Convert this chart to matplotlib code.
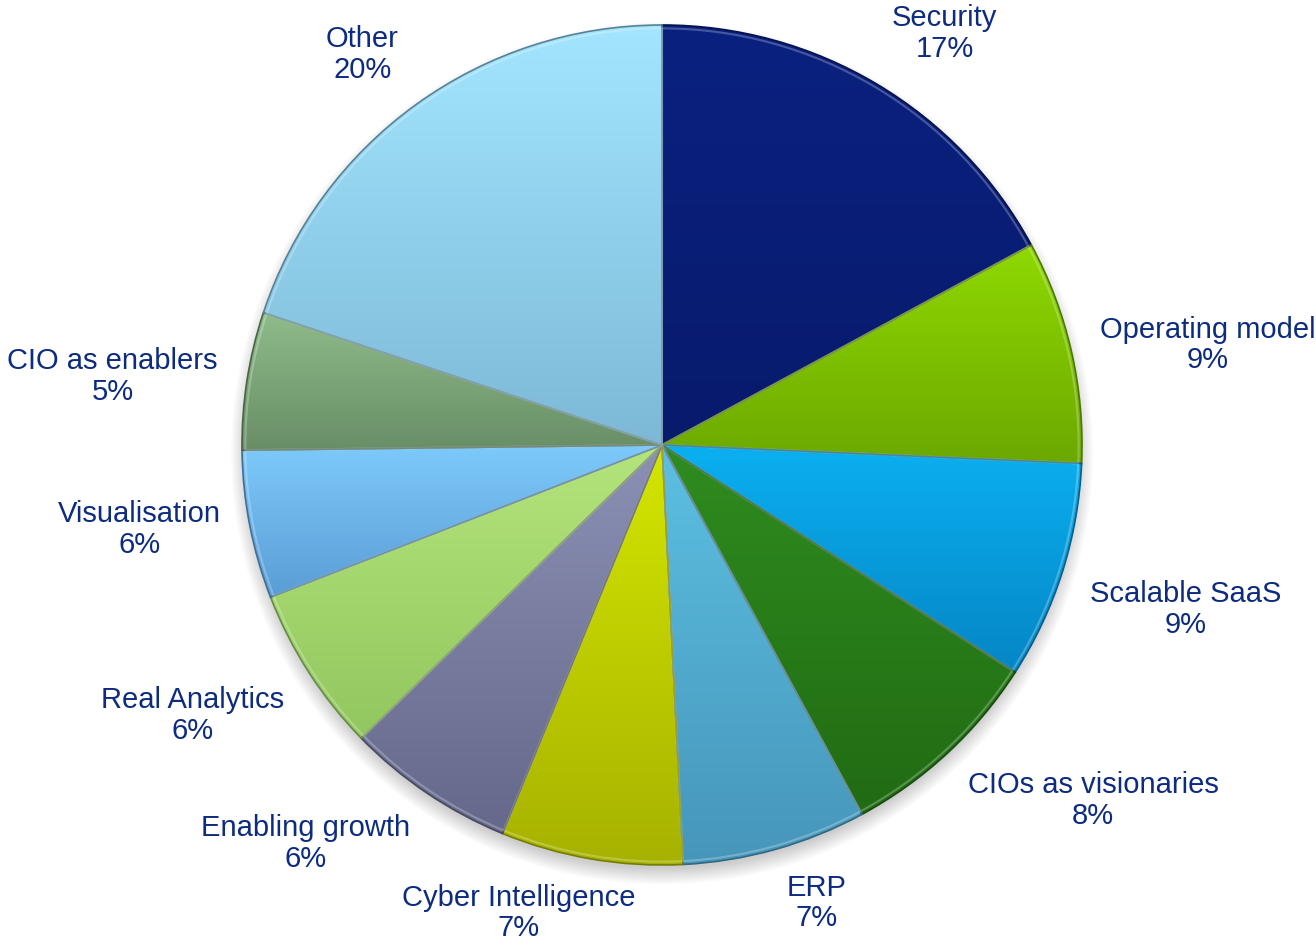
import numpy as np
import matplotlib
matplotlib.use("Agg")
import matplotlib.pyplot as plt
from matplotlib.colors import to_rgb
from matplotlib.patches import Wedge, Circle

# slice data (clockwise from 12 o'clock)
labels = ["Security", "Operating model", "Scalable SaaS", "CIOs as visionaries",
          "ERP", "Cyber Intelligence", "Enabling growth", "Real Analytics",
          "Visualisation", "CIO as enablers", "Other"]
shares = [17.1, 8.6, 8.4, 8.0, 7.1, 7.0, 6.5, 6.4, 5.7, 5.3, 19.9]
pct_labels = [17, 9, 9, 8, 7, 7, 6, 6, 6, 5, 20]

# gradient colours, top -> bottom of each slice
top_colors = ["#0b2180", "#8fd900", "#0bb0f0", "#2f8c1f", "#5cc0e2", "#d4e600",
              "#8b91b5", "#b4e57c", "#7ecafb", "#8fbc8b", "#a3e5ff"]
bot_colors = ["#071a6c", "#6ca800", "#0586c6", "#216b13", "#4696ba", "#a6b200",
              "#65688a", "#92c65e", "#5a9dd6", "#688e66", "#7db9d6"]

text_color = "#0d2c80"
plt.rcParams['font.family'] = ['Liberation Sans', 'DejaVu Sans']

fig = plt.figure(figsize=(13.16, 9.52), dpi=100)
ax = fig.add_axes([0, 0, 1, 1])
ax.axis('off')

# soft drop shadow, mostly below the pie
for i in range(10):
    ax.add_patch(Circle((0.0, -0.02), 0.99 + 0.004 * i, color="black",
                        alpha=0.02, lw=0, zorder=0))

wedges, _ = ax.pie(shares, startangle=90, counterclock=False, radius=1.0,
                   wedgeprops=dict(linewidth=0))

nudge = {"Cyber Intelligence": (-0.16, 0.0), "ERP": (0.08, 0.0)}

for w, name, pct, c0, c1 in zip(wedges, labels, pct_labels, top_colors, bot_colors):
    t1, t2 = w.theta1, w.theta2
    th = np.radians(np.linspace(t1, t2, 60))
    xs = np.concatenate([[0], np.cos(th)])
    ys = np.concatenate([[0], np.sin(th)])
    grad = np.linspace(0, 1, 200)[:, None]
    a, b = np.array(to_rgb(c0)), np.array(to_rgb(c1))
    img = a[None, None, :] * (1 - grad[..., None]) + b[None, None, :] * grad[..., None]
    w.set_facecolor(c1)
    im = ax.imshow(img, extent=[xs.min(), xs.max(), ys.min(), ys.max()], origin="upper",
                   aspect="auto", zorder=2, interpolation="bilinear")
    im.set_clip_path(w)
    # bevel-ish outline
    ax.add_patch(Wedge((0, 0), 1.0, t1, t2, fill=False,
                       edgecolor=tuple(np.array(to_rgb(c1)) * 0.7), lw=1.2, zorder=3))
    ax.add_patch(Wedge((0, 0), 0.992, t1, t2, fill=False,
                       edgecolor=(1, 1, 1, 0.25), lw=1.5, zorder=3))

    mid = np.radians((t1 + t2) / 2)
    cx, cy = np.cos(mid), np.sin(mid)
    x, y = 1.07 * cx, 1.06 * cy
    dx, dy = nudge.get(name, (0, 0))
    ha = "left" if cx > 0.3 else ("right" if cx < -0.3 else "center")
    va = "bottom" if cy > 0.3 else ("top" if cy < -0.3 else "center")
    ax.text(x + dx, y + dy, f"{name}\n{pct}%", ha=ha, va=va, multialignment="center",
            fontsize=21, color=text_color, linespacing=1.12, zorder=5)

ax.set_xlim(-662 / 420, 654 / 420)
ax.set_ylim(-507 / 420, 445 / 420)
fig.savefig("out.png", dpi=100, facecolor="white")
